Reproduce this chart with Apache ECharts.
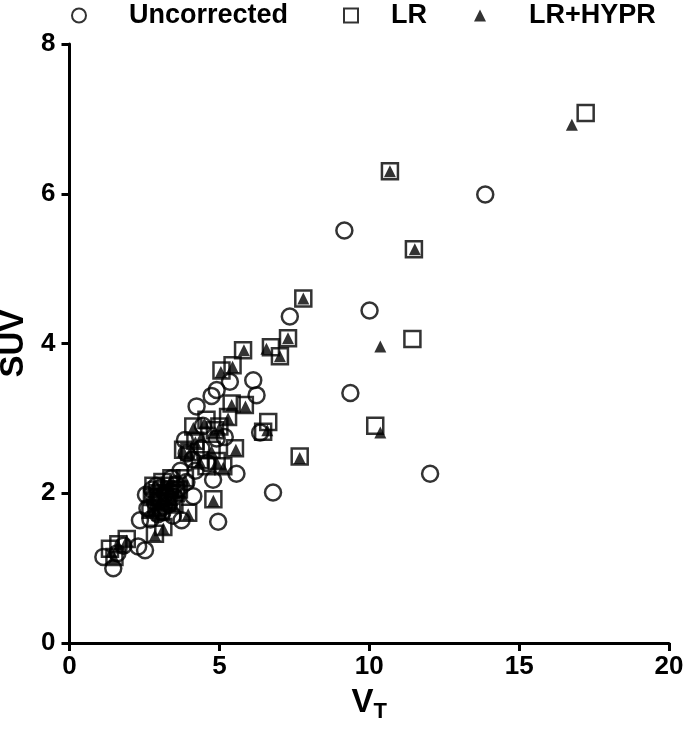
<!DOCTYPE html>
<html>
<head>
<meta charset="utf-8">
<script src="https://cdn.jsdelivr.net/npm/echarts@6/dist/echarts.min.js"></script>
<style>
  html, body { margin: 0; padding: 0; background: #fff; }
  #chart { width: 685px; height: 737px; }
</style>
</head>
<body>
<div id="chart"></div>
<script>
// SUV vs V_T
const xTicks = [0, 5, 10, 15, 20];
const yTicks = [0, 2, 4, 6, 8];

const uncorrected = [
  [13.87,5.99],[9.17,5.51],[10.01,4.44],[9.37,3.34],[12.03,2.26],[7.35,4.36],[6.13,3.51],[6.24,3.31],
  [5.35,3.49],[4.91,3.38],[4.74,3.30],[4.24,3.16],[6.36,2.81],[5.57,2.26],[4.79,2.18],[6.79,2.01],
  [4.96,1.62],[4.13,1.96],[3.74,1.64],[3.85,2.71],[3.91,2.53],[4.91,2.73],[5.18,2.75],[4.4,2.6],
  [4.6,2.4],[4.2,2.3],[3.9,2.15],[3.6,2.05],[3.4,2.2],[3.2,2.0],[3.0,1.9],[2.8,1.95],[2.6,1.8],
  [2.9,2.1],[3.3,1.85],[3.5,1.95],[3.1,1.75],[2.7,1.65],[2.35,1.64],[2.29,1.29],[2.52,1.24],
  [1.13,1.15],[1.46,1.0],[1.6,1.2],[1.8,1.3],[4.1,2.45],[3.7,2.3],[2.75,2.05],[3.45,1.7],[4.45,2.9],
  [2.55,1.98],[3.05,2.08],[3.35,2.02],[3.15,1.82],[2.95,1.72],[3.55,2.12],[2.85,1.88],[3.25,1.95]
];

const lr = [
  [17.22,7.08],[10.69,6.30],[11.49,5.26],[11.44,4.06],[10.2,2.90],[7.80,4.60],[7.29,4.07],[6.72,3.95],
  [7.02,3.83],[5.79,3.91],[5.44,3.71],[5.07,3.64],[5.85,3.18],[5.41,3.20],[5.29,3.02],[6.63,2.95],
  [6.46,2.82],[5.52,2.60],[7.68,2.49],[4.13,2.89],[4.57,2.98],[4.85,2.84],[5.0,2.89],[3.79,2.58],
  [4.74,2.58],[4.35,2.44],[4.91,2.43],[5.13,2.36],[4.57,2.36],[4.8,1.92],[3.96,1.74],[3.13,1.55],
  [2.85,1.46],[2.8,2.1],[3.1,2.15],[3.4,2.2],[3.65,2.05],[3.0,1.9],[3.3,1.95],[2.9,1.8],[3.5,1.85],
  [3.2,2.05],[2.75,1.95],[1.91,1.39],[1.63,1.32],[1.35,1.26],[1.5,1.15],[4.2,2.7],[4.0,2.55],[3.85,2.2],
  [2.95,2.0],[3.25,1.88],[3.55,2.0],[3.05,1.75],[2.7,1.78],[3.35,2.1]
];

const lrHypr = [
  [16.76,6.92],[10.69,6.30],[11.52,5.26],[10.37,3.96],[10.37,2.81],[7.80,4.60],[7.29,4.07],[6.57,3.93],
  [7.02,3.83],[5.82,3.91],[5.44,3.69],[5.05,3.62],[5.87,3.16],[5.41,3.18],[5.29,3.0],[6.6,2.84],
  [5.55,2.58],[7.68,2.47],[4.13,2.87],[4.5,2.93],[4.85,2.82],[5.0,2.87],[3.79,2.56],[4.74,2.56],
  [4.35,2.42],[4.91,2.41],[5.13,2.34],[4.8,1.9],[3.96,1.72],[3.13,1.53],[2.85,1.44],[2.8,2.08],
  [3.1,2.13],[3.4,2.18],[3.65,2.03],[3.0,1.88],[3.3,1.93],[2.9,1.78],[3.5,1.83],[3.2,2.03],
  [2.75,1.93],[1.91,1.37],[1.63,1.3],[1.5,1.13],[1.4,1.22],[4.2,2.68],[4.0,2.53],[3.85,2.18],[4.4,2.75],
  [2.95,1.98],[3.25,1.86],[3.55,1.98],[3.05,1.73],[2.7,1.76],[3.35,2.08]
];

const FONT = "'Liberation Sans', Arial, sans-serif";

let myChart = echarts.init(document.getElementById('chart'));

function legendAt(name, left, pad, size) {
  return {
    data: [name],
    left: left,
    top: 2,
    padding: 0,
    itemWidth: size,
    itemHeight: size,
    textStyle: {
      fontFamily: FONT,
      fontWeight: 'bold',
      fontSize: 27,
      color: '#000',
      padding: [0, 0, 0, pad]
    }
  };
}

myChart.setOption({
  animation: false,
  backgroundColor: '#fff',
  legend: [
    legendAt('Uncorrected', 71, 38, 14),
    legendAt('LR', 343, 28, 14),
    legendAt('LR+HYPR', 474, 38, 12)
  ],
  grid: { left: 69.5, right: 16, top: 44, bottom: 94, outerBoundsMode: 'none', containLabel: false },
  xAxis: {
    type: 'value',
    min: 0,
    max: 20,
    interval: 5,
    name: '{v|V}{t|T}',
    nameLocation: 'middle',
    nameGap: 40,
    nameTextStyle: {
      rich: {
        v: { fontFamily: FONT, fontWeight: 'bold', fontSize: 33, color: '#000' },
        t: { fontFamily: FONT, fontWeight: 'bold', fontSize: 22, color: '#000', padding: [18, 0, 0, 0] }
      }
    },
    splitLine: { show: false },
    axisLine: { onZero: false, lineStyle: { color: '#000', width: 3 } },
    axisTick: { show: true, length: 8, lineStyle: { color: '#000', width: 3 } },
    axisLabel: {
      customValues: xTicks,
      margin: 11,
      color: '#000', fontFamily: FONT, fontWeight: 'bold', fontSize: 26
    }
  },
  yAxis: {
    type: 'value',
    min: 0,
    max: 8,
    interval: 2,
    name: 'SUV',
    nameLocation: 'middle',
    nameGap: 31,
    nameTextStyle: { fontFamily: FONT, fontWeight: 'bold', fontSize: 33, color: '#000' },
    splitLine: { show: false },
    axisLine: { show: true, onZero: false, lineStyle: { color: '#000', width: 3 } },
    axisTick: { show: true, length: 8, lineStyle: { color: '#000', width: 3 } },
    axisLabel: {
      customValues: yTicks,
      margin: 14,
      color: '#000', fontFamily: FONT, fontWeight: 'bold', fontSize: 26
    }
  },
  series: [
    {
      name: 'Uncorrected',
      type: 'scatter',
      data: uncorrected,
      symbol: 'circle',
      symbolSize: 16,
      itemStyle: { color: 'rgba(255,255,255,0)', borderColor: '#000', borderWidth: 2.5 }
    },
    {
      name: 'LR',
      type: 'scatter',
      data: lr,
      symbol: 'rect',
      symbolSize: 16,
      itemStyle: { color: 'rgba(255,255,255,0)', borderColor: '#000', borderWidth: 2.5 }
    },
    {
      name: 'LR+HYPR',
      type: 'scatter',
      data: lrHypr,
      symbol: 'triangle',
      symbolSize: 12,
      itemStyle: { color: '#000' }
    }
  ]
});

window.addEventListener('resize', () => {
  if (myChart) {
    myChart.resize();
  }
});
</script>
</body>
</html>
